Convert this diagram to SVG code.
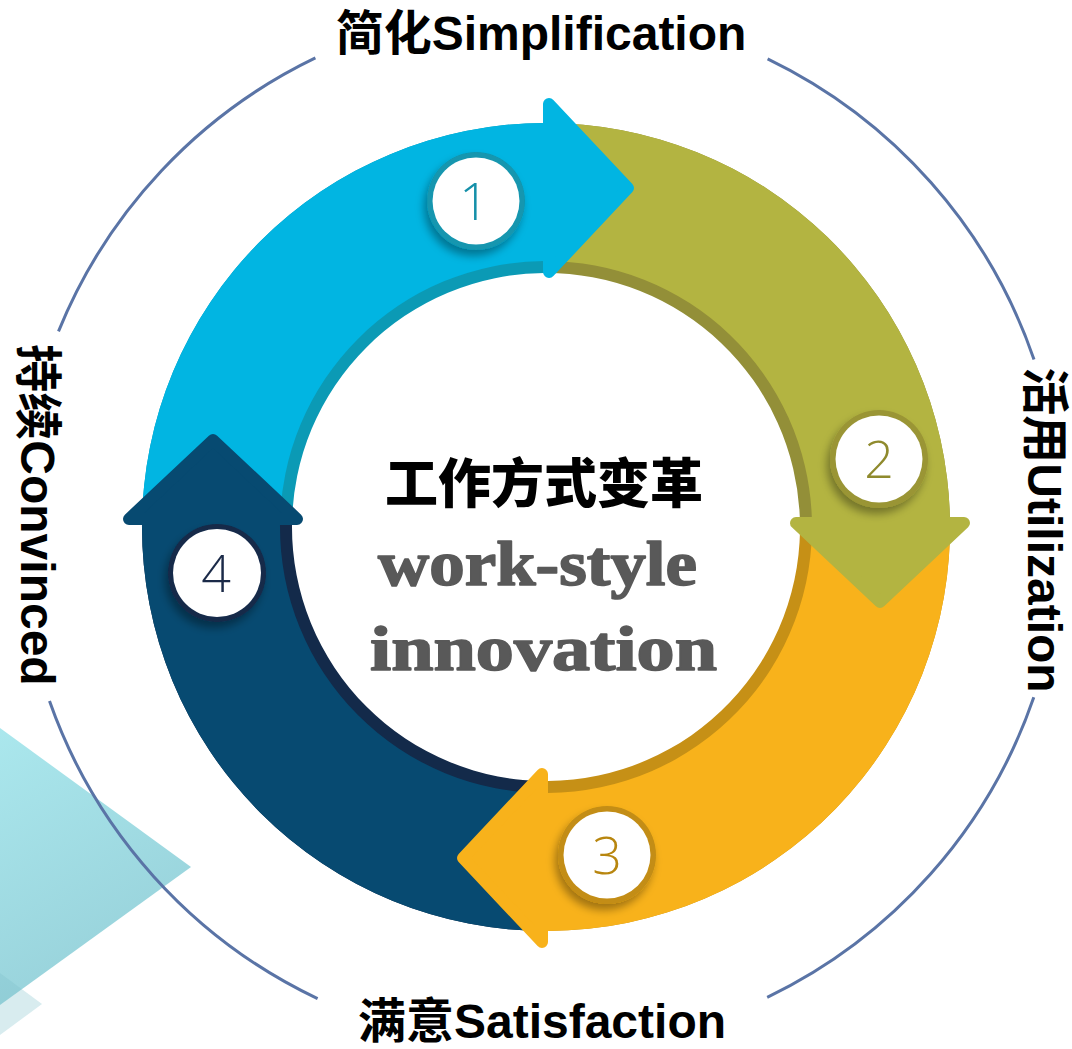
<svg xmlns="http://www.w3.org/2000/svg" width="1072" height="1049" viewBox="0 0 1072 1049">
  <defs>
    <style>
      .lbl { font-family: "Liberation Sans", "Noto Sans CJK SC", sans-serif; font-weight: 700; font-size: 48px; fill: #000; }
      .num { font-family: "Open Sans", "Liberation Sans", sans-serif; font-weight: 300; font-size: 52px; text-anchor: middle; }
      .orbit { fill: none; stroke: #5a74a6; stroke-width: 3; }
      .head { stroke-width: 12; stroke-linejoin: round; }
      .disc { fill: #ffffff; }
      .serif { font-family: "Liberation Serif", serif; font-weight: 700; font-size: 64px; fill: #595959; stroke: #595959; stroke-width: 1.6; stroke-linejoin: round; }
    </style>
    <linearGradient id="triG" x1="0" y1="0" x2="0.4" y2="1">
      <stop offset="0" stop-color="#a6e6ec"/>
      <stop offset="1" stop-color="#92cfd8"/>
    </linearGradient>
    <filter id="csh" x="-40%" y="-40%" width="180%" height="180%">
      <feDropShadow dx="-3" dy="6" stdDeviation="4" flood-color="#000" flood-opacity="0.35"/>
    </filter>
    <polygon id="arrowhead" points="6,-84 85,0 6,84"/>
  </defs>

  <!-- decorative triangles -->
  <polygon points="0,728 191,867 0,1005" fill="url(#triG)" opacity="0.95"/>
  <polygon points="0,973 42,1004 0,1035" fill="#7fbfcb" opacity="0.3"/>

  <!-- outer orbit arcs -->
  <g id="connectors">
    <path class="orbit" d="M 58.5 331.4 A 521 521 0 0 1 315.4 57.9"/>
    <path class="orbit" d="M 767.6 58.8 A 521 521 0 0 1 1034 359.6"/>
    <path class="orbit" d="M 1033.8 697.3 A 521 521 0 0 1 767.2 997.4"/>
    <path class="orbit" d="M 317.6 998.6 A 521 521 0 0 1 49.5 701.1"/>
  </g>

  <!-- ring segments -->
  <g id="ring">
    <path fill="#0b9ab5" d="M 142 525 A 404 404 0 0 1 544 123 L 544 273 A 254 254 0 0 0 292 525 Z"/>
    <path fill="#01b5e2" d="M 142 525 A 404 404 0 0 1 544 123 L 544 261 A 266 266 0 0 0 280 525 Z"/>
    <path fill="#938f38" d="M 544 123 A 404 404 0 0 1 949.9 517 L 799.8 517 A 254 254 0 0 0 544 273 Z"/>
    <path fill="#b3b441" d="M 544 123 A 404 404 0 0 1 949.9 517 L 811.8 517 A 266 266 0 0 0 544 261 Z"/>
    <path fill="#c69016" d="M 949.9 517 A 404 404 0 0 1 548 931 L 548 781 A 254 254 0 0 0 799.8 517 Z"/>
    <path fill="#f8b21b" d="M 949.9 517 A 404 404 0 0 1 548 931 L 548 793 A 266 266 0 0 0 811.8 517 Z"/>
    <path fill="#132a4a" d="M 548 931 A 404 404 0 0 1 142 525 L 292 525 A 254 254 0 0 0 548 781 Z"/>
    <path fill="#074a71" d="M 548 931 A 404 404 0 0 1 142 525 L 280 525 A 266 266 0 0 0 548 793 Z"/>
  </g>

  <!-- step 1 -->
  <g id="step-1">
    <use href="#arrowhead" class="head" fill="#01b5e2" stroke="#01b5e2" transform="translate(543,188)"/>
    <g filter="url(#csh)">
      <circle cx="476" cy="201" r="49" fill="#1296af"/>
      <circle class="disc" cx="476" cy="201" r="43.5"/>
    </g>
    <text class="num" x="474" y="220" fill="#1590a9">1</text>
  </g>

  <!-- step 2 -->
  <g id="step-2">
    <use href="#arrowhead" class="head" fill="#b3b441" stroke="#b3b441" transform="translate(880,517) rotate(90)"/>
    <g filter="url(#csh)">
      <circle cx="879" cy="459" r="49" fill="#9a9535"/>
      <circle class="disc" cx="879" cy="459" r="43.5"/>
    </g>
    <text class="num" x="879" y="478" fill="#8f8a2d">2</text>
  </g>

  <!-- step 3 -->
  <g id="step-3">
    <use href="#arrowhead" class="head" fill="#f8b21b" stroke="#f8b21b" transform="translate(548,858) rotate(180)"/>
    <g filter="url(#csh)">
      <circle cx="607" cy="855" r="49" fill="#c38d14"/>
      <circle class="disc" cx="607" cy="855" r="43.5"/>
    </g>
    <text class="num" x="607" y="874" fill="#b8860f">3</text>
  </g>

  <!-- step 4 -->
  <g id="step-4">
    <use href="#arrowhead" class="head" fill="#074a71" stroke="#074a71" transform="translate(213,525) rotate(270)"/>
    <g filter="url(#csh)">
      <circle cx="217" cy="573" r="49" fill="#142a4a"/>
      <circle class="disc" cx="217" cy="573" r="44"/>
    </g>
    <text class="num" x="216" y="592" fill="#1b2a48">4</text>
  </g>

  <!-- labels -->
  <g id="label-top"><text class="lbl" x="541" y="50" text-anchor="middle">简化Simplification</text></g>
  <g id="label-right"><text class="lbl" transform="translate(1028,530) rotate(90)" text-anchor="middle">活用Utilization</text></g>
  <g id="label-bottom"><text class="lbl" x="542" y="1038" text-anchor="middle">满意Satisfaction</text></g>
  <g id="label-left"><text class="lbl" transform="translate(21,515) rotate(90)" text-anchor="middle">持续Convinced</text></g>

  <!-- center -->
  <g id="center">
    <text x="544" y="503" text-anchor="middle" font-family="'Noto Sans CJK SC', sans-serif" font-weight="900" font-size="53" fill="#000">工作方式变革</text>
    <text class="serif" x="378" y="585" textLength="319" lengthAdjust="spacingAndGlyphs">work-style</text>
    <text class="serif" x="370" y="670" textLength="347" lengthAdjust="spacingAndGlyphs">innovation</text>
  </g>
</svg>
